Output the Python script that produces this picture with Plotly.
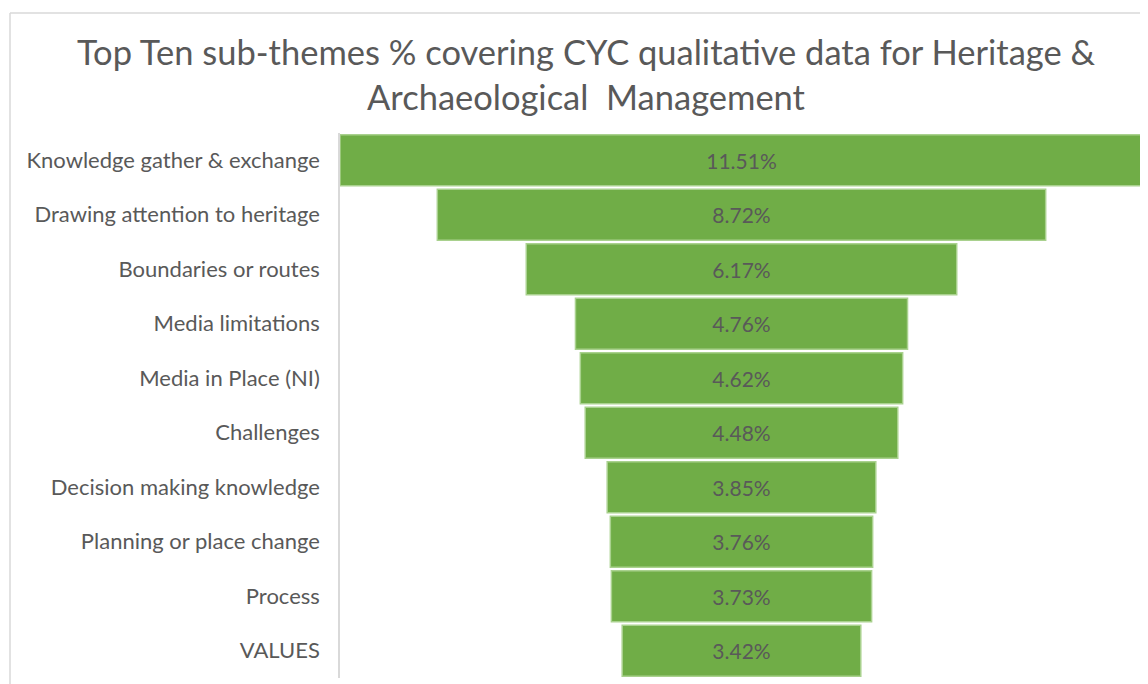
import plotly.graph_objects as go

categories = ["Knowledge gather & exchange", "Drawing attention to heritage", "Boundaries or routes",
              "Media limitations", "Media in Place (NI)", "Challenges", "Decision making knowledge",
              "Planning or place change", "Process", "VALUES"]
values = [11.51, 8.72, 6.17, 4.76, 4.62, 4.48, 3.85, 3.76, 3.73, 3.42]

# page body has an 8px margin, so figure coordinates are offset by 8px
W, H = 1140, 676
L, R, T, B = 332, 5, 125, 6
pw, ph = W - L - R, H - T - B
FONT = "Lato"
GRAY = "#595959"

fig = go.Figure(go.Funnel(
    y=categories, x=values,
    texttemplate="%{x:.2f}%", textposition="inside",
    textfont=dict(color=GRAY, size=21, family=FONT),
    marker=dict(color="#70AD47", line=dict(color="#A9D18E", width=1.5)),
    connector=dict(visible=False),
    hoverinfo="y+x",
))

half = max(values) / 2
ytop = (H - B - 5) / ph
xleft = (2 - L) / pw
fig.update_layout(
    width=W, height=H,
    margin=dict(l=L, r=R, t=T, b=B),
    paper_bgcolor="white", plot_bgcolor="white",
    funnelgap=0.065,
    title=dict(text="Top Ten sub-themes % covering CYC qualitative data for Heritage &<br>Archaeological  Management",
               x=578 / W, xref="container", xanchor="center", y=1 - 57 / H, yanchor="middle",
               font=dict(family=FONT, size=34.5, color=GRAY)),
    xaxis=dict(visible=False, range=[-half, half]),
    yaxis=dict(showline=True, linecolor="#D9D9D9", linewidth=1.5, ticks="",
               tickfont=dict(family=FONT, size=22, color=GRAY), ticklabelstandoff=14),
    showlegend=False,
    shapes=[
        dict(type="line", xref="paper", yref="paper", x0=xleft, x1=(W - L) / pw, y0=ytop, y1=ytop,
             line=dict(color="#D9D9D9", width=1.5)),
        dict(type="line", xref="paper", yref="paper", x0=xleft, x1=xleft, y0=ytop, y1=-B / ph - 0.01,
             line=dict(color="#D9D9D9", width=1.5)),
    ],
)
fig.write_html("out.html")
